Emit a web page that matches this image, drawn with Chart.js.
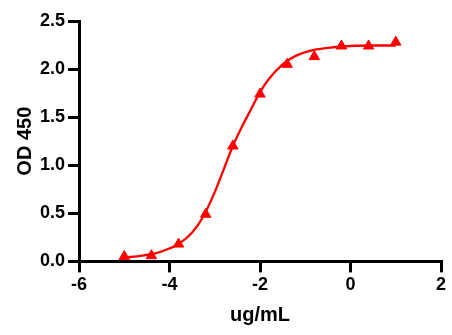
<!DOCTYPE html>
<html>
<head>
<meta charset="utf-8">
<script src="https://cdn.jsdelivr.net/npm/chart.js@4"></script>
<style>
  html, body { margin: 0; padding: 0; background: #fff; }
  #wrap { width: 452px; height: 335px; }
</style>
</head>
<body>
<div id="wrap"><canvas id="odChart" width="452" height="335"></canvas></div>
<script>
// measured points (log concentration vs OD)
const pointX = [-5.0, -4.4, -3.8, -3.2, -2.6, -2.0, -1.4, -0.8, -0.2, 0.4, 1.0];
const pointY = [0.05, 0.06, 0.18, 0.49, 1.20, 1.74, 2.05, 2.13, 2.24, 2.24, 2.28];

// fitted curve
const curveX = [-5.0, -4.6, -4.2, -3.8, -3.5, -3.25, -3.0, -2.8, -2.6, -2.4, -2.2, -2.0, -1.8, -1.5, -1.2, -0.9, -0.5, 0.0, 0.5, 1.0];
const curveY = [0.04, 0.06, 0.10, 0.18, 0.30, 0.47, 0.72, 0.96, 1.20, 1.40, 1.58, 1.76, 1.90, 2.05, 2.14, 2.19, 2.22, 2.24, 2.245, 2.245];

const xTicks = [-6, -4, -2, 0, 2];
const yTicks = [0, 0.5, 1.0, 1.5, 2.0, 2.5];

const tickFont = { family: 'Liberation Sans, Arial, sans-serif', size: 18, weight: 'bold' };
const titleFont = { family: 'Liberation Sans, Arial, sans-serif', size: 20, weight: 'bold' };

document.addEventListener('DOMContentLoaded', function() {
    const ctx = document.getElementById('odChart').getContext('2d');
    new Chart(ctx, {
        type: 'scatter',
        data: {
            datasets: [
                {
                    label: 'fit',
                    data: curveX.map((x, i) => ({ x: x, y: curveY[i] })),
                    showLine: true,
                    borderColor: '#ff0000',
                    borderWidth: 2.3,
                    pointRadius: 0,
                    cubicInterpolationMode: 'monotone',
                    order: 2
                },
                {
                    label: 'data',
                    data: pointX.map((x, i) => ({ x: x, y: pointY[i] })),
                    pointStyle: 'triangle',
                    pointRadius: 6,
                    backgroundColor: '#ff0000',
                    borderColor: '#ff0000',
                    borderWidth: 1,
                    order: 1
                }
            ]
        },
        options: {
            responsive: false,
            animation: false,
            clip: false,
            layout: { padding: { top: 21, right: 11, left: 13, bottom: 8 } },
            plugins: { legend: { display: false }, tooltip: { enabled: false } },
            scales: {
                x: {
                    type: 'linear',
                    min: -6,
                    max: 2,
                    afterBuildTicks: axis => { axis.ticks = xTicks.map(v => ({ value: v })); },
                    grid: { drawOnChartArea: false, drawTicks: true, tickLength: 11, lineWidth: 3, color: '#000' },
                    border: { display: true, width: 3, color: '#000' },
                    ticks: { color: '#000', font: tickFont, padding: 2, maxRotation: 0 },
                    title: { display: true, text: 'ug/mL', color: '#000', font: titleFont, padding: { top: 5, bottom: 0 } }
                },
                y: {
                    min: 0,
                    max: 2.5,
                    afterBuildTicks: axis => { axis.ticks = yTicks.map(v => ({ value: v })); },
                    grid: { drawOnChartArea: false, drawTicks: true, tickLength: 11, lineWidth: 3, color: '#000' },
                    border: { display: true, width: 3, color: '#000' },
                    ticks: { color: '#000', font: tickFont, padding: 3, callback: v => Number(v).toFixed(1) },
                    title: { display: true, text: 'OD 450', color: '#000', font: titleFont, padding: { top: 0, bottom: 0 } }
                }
            }
        }
    });
});
</script>
</body>
</html>
